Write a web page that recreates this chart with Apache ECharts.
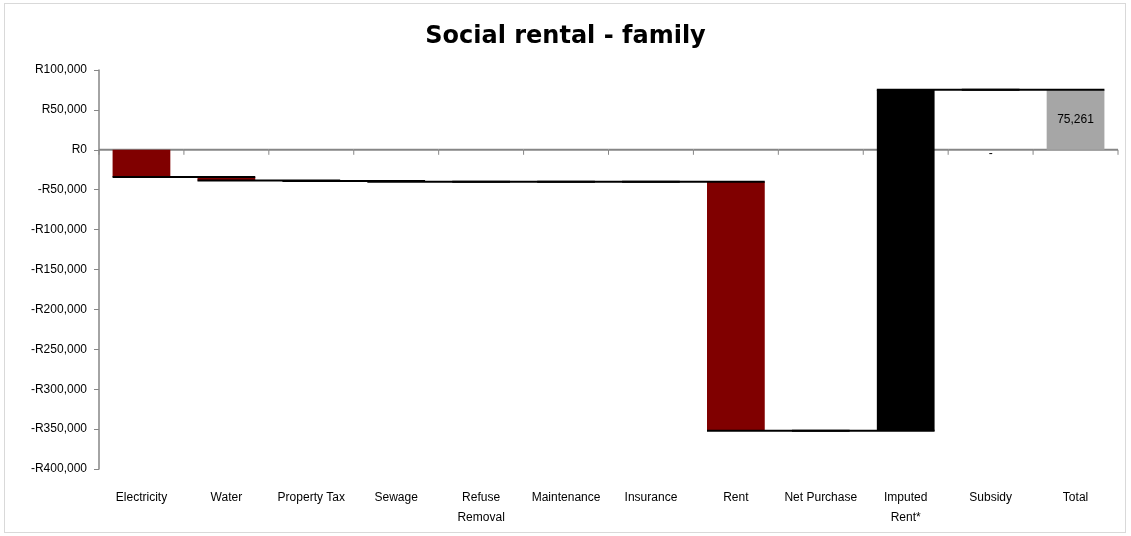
<!DOCTYPE html>
<html>
<head>
<meta charset="utf-8">
<script src="https://cdn.jsdelivr.net/npm/echarts@6/dist/echarts.min.js"></script>
<style>
html,body{margin:0;padding:0;background:#fff;}
#c{width:1131px;height:536px;position:relative;}
#frame{position:absolute;left:4px;top:3px;width:1122px;height:530px;border:1px solid #d9d9d9;box-sizing:border-box;pointer-events:none;}
</style>
</head>
<body>
<div id="c"></div>
<div id="frame"></div>
<script>
var categories = ['Electricity','Water','Property Tax','Sewage','Refuse\nRemoval','Maintenance','Insurance','Rent','Net Purchase','Imputed\nRent*','Subsidy','Total'];
var changes = [-34000,-4500,-500,-1000,0,0,0,-312000,0,427261,0];
var totalValue = 75261;
var yTicks = {min:-400000,max:100000,interval:50000};

// build waterfall start/end from changes
var rows = [];
var cum = 0;
for (var i = 0; i < changes.length; i++) {
  var s = cum; cum += changes[i];
  rows.push([i, s, cum, changes[i] < 0 ? 0 : 1]);
}
rows.push([changes.length, 0, totalValue, 2]);

var colors = ['#800000','#000000','#A6A6A6'];
var commas = function(v){ return Math.abs(v).toString().replace(/\B(?=(\d{3})+(?!\d))/g, ','); };
var fmt = function(v){ return (v < 0 ? '-R' : 'R') + commas(v); };

var chart = echarts.init(document.getElementById('c'), null, {renderer:'canvas'});
chart.setOption({
  animation:false,
  title:{text:'Social rental - family',left:'center',top:20,textStyle:{fontFamily:'DejaVu Sans',fontWeight:'bold',fontSize:24,color:'#000'}},
  grid:{left:99,right:13,top:70,bottom:67},
  xAxis:{
    type:'category',data:categories,position:'bottom',
    axisLine:{show:false},axisTick:{show:false},
    axisLabel:{interval:0,margin:19,fontFamily:'Liberation Sans',fontSize:12,color:'#000',lineHeight:20}
  },
  yAxis:{
    type:'value',min:yTicks.min,max:yTicks.max,interval:yTicks.interval,
    splitLine:{show:false},
    axisLine:{show:true,lineStyle:{color:'#868686',width:1.5}},
    axisTick:{show:true,length:5,lineStyle:{color:'#868686'}},
    axisLabel:{formatter:fmt,margin:12,fontFamily:'Liberation Sans',fontSize:12,color:'#000'}
  },
  series:[{
    // zero-level category axis line with boundary ticks
    type:'custom',
    z:1,
    data:categories.map(function(c,i){return [i,0];}),
    encode:{x:0,y:1},
    renderItem:function(params, api){
      var idx = api.value(0);
      var band = api.size([1,0])[0];
      var p = api.coord([idx, 0]);
      var l = p[0]-band/2, r = p[0]+band/2;
      var ch = [
        {type:'line',shape:{x1:l,y1:p[1],x2:r,y2:p[1]},style:{stroke:'#868686',lineWidth:2}},
        {type:'line',shape:{x1:l,y1:p[1],x2:l,y2:p[1]+5},style:{stroke:'#868686',lineWidth:1}}
      ];
      if (idx === categories.length-1) ch.push({type:'line',shape:{x1:r,y1:p[1],x2:r,y2:p[1]+5},style:{stroke:'#868686',lineWidth:1}});
      return {type:'group',children:ch};
    }
  },{
    type:'custom',
    z:2,
    data:rows,
    encode:{x:0,y:[1,2]},
    renderItem:function(params, api){
      var idx = api.value(0);
      var s = api.value(1), e = api.value(2), kind = api.value(3);
      var band = api.size([1,0])[0];
      var bw = band*0.68;
      var p1 = api.coord([idx, s]);
      var p2 = api.coord([idx, e]);
      var pz = api.coord([idx, 0]);
      var top = Math.min(p1[1],p2[1]);
      var h = Math.abs(p1[1]-p2[1]);
      var x0 = p1[0]-bw/2;
      var children = [{
        type:'rect',
        shape:{x:x0,y:top,width:bw,height:h},
        style:{fill:colors[kind]}
      }];
      if (idx < rows.length-1) {
        children.push({
          type:'line',z2:10,
          shape:{x1:x0,y1:p2[1],x2:x0+band+bw,y2:p2[1]},
          style:{stroke:'#000',lineWidth:2}
        });
      }
      var label = null, ly = 0;
      if (kind === 2) { label = commas(e); ly = (p1[1]+p2[1])/2; }
      if (categories[idx] === 'Subsidy') { label = '-'; ly = pz[1]+4; }
      if (label) {
        children.push({
          type:'text',z2:20,
          style:{text:label,x:p1[0],y:ly,align:'center',verticalAlign:'middle',
            fontFamily:'Liberation Sans',fontSize:12,fill:'#000'}
        });
      }
      return {type:'group',children:children};
    }
  }]
});
</script>
</body>
</html>
